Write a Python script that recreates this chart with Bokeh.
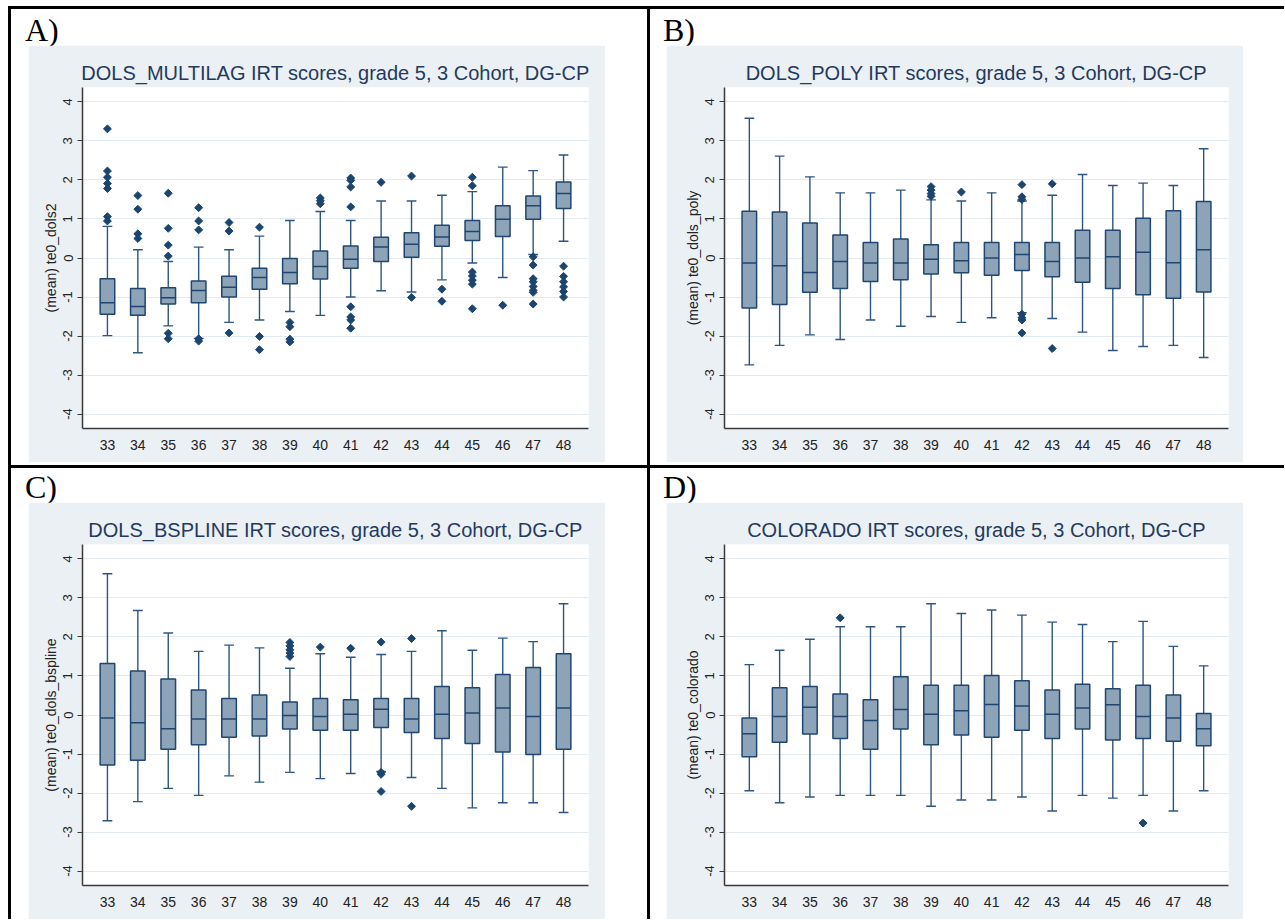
import math
from bokeh.plotting import figure
from bokeh.models import Range1d, FixedTicker, Div, Spacer
from bokeh.layouts import column, row
from bokeh.embed import file_html
from bokeh.resources import INLINE

# ---------------- data ----------------
cats = list(range(33, 49))
x_tick_labels = [str(c) for c in cats]
y_ticks = [-4, -3, -2, -1, 0, 1, 2, 3, 4]
y_tick_labels = ["-4", "-3", "-2", "-1", "0", "1", "2", "3", "4"]

panel_labels = ["A)", "B)", "C)", "D)"]
titles = [
    "DOLS_MULTILAG IRT scores, grade 5, 3 Cohort, DG-CP",
    "DOLS_POLY IRT scores, grade 5, 3 Cohort, DG-CP",
    "DOLS_BSPLINE IRT scores, grade 5, 3 Cohort, DG-CP",
    "COLORADO IRT scores, grade 5, 3 Cohort, DG-CP",
]
ylabels = [
    "(mean) te0_dols2",
    "(mean) te0_dols_poly",
    "(mean) te0_dols_bspline",
    "(mean) te0_colorado",
]

# Panel A: DOLS_MULTILAG
A_hi = [0.81, 0.21, -0.09, 0.28, 0.21, 0.56, 0.96, 1.19, 0.96, 1.46, 1.46, 1.61, 1.70, 2.33, 2.24, 2.64]
A_q3 = [-0.53, -0.78, -0.76, -0.59, -0.47, -0.26, -0.01, 0.18, 0.31, 0.53, 0.65, 0.84, 0.96, 1.34, 1.59, 1.95]
A_med = [-1.15, -1.24, -1.02, -0.83, -0.75, -0.50, -0.37, -0.22, -0.03, 0.28, 0.35, 0.54, 0.68, 0.99, 1.34, 1.65]
A_q1 = [-1.44, -1.47, -1.18, -1.15, -1.00, -0.80, -0.66, -0.54, -0.26, -0.09, 0.02, 0.30, 0.45, 0.55, 0.99, 1.27]
A_lo = [-1.99, -2.43, -1.74, -2.06, -1.65, -1.59, -1.37, -1.47, -1.00, -0.84, -0.87, -0.56, -0.13, -0.50, 0.09, 0.43]
A_out = [
    [3.31, 2.23, 2.07, 1.91, 1.78, 1.06, 0.95],
    [1.60, 1.25, 0.62, 0.50],
    [1.66, 0.76, 0.33, 0.05, -1.93, -2.07],
    [1.29, 0.95, 0.72, -2.07, -2.13],
    [0.91, 0.69, -1.92],
    [0.79, -2.01, -2.35],
    [-1.65, -1.76, -2.08, -2.15],
    [1.54, 1.47, 1.39],
    [2.05, 1.99, 1.82, 1.31, -1.25, -1.51, -1.59, -1.80],
    [1.94],
    [2.10, -1.01],
    [-0.80, -1.11],
    [2.07, 1.85, -0.36, -0.46, -0.57, -0.67, -1.30],
    [-1.21],
    [0.03, -0.18, -0.53, -0.61, -0.73, -0.83, -0.88, -1.18],
    [-0.21, -0.47, -0.61, -0.74, -0.86, -1.00],
]

# Panel B: DOLS_POLY
B_hi = [3.58, 2.61, 2.08, 1.67, 1.67, 1.74, 1.49, 1.46, 1.67, 1.46, 1.61, 2.14, 1.86, 1.92, 1.86, 2.80]
B_q3 = [1.20, 1.18, 0.90, 0.59, 0.40, 0.49, 0.34, 0.40, 0.40, 0.40, 0.40, 0.71, 0.71, 1.02, 1.21, 1.45]
B_med = [-0.13, -0.20, -0.37, -0.09, -0.13, -0.13, -0.03, -0.07, 0.00, 0.09, -0.09, 0.00, 0.03, 0.15, -0.12, 0.21]
B_q1 = [-1.28, -1.19, -0.88, -0.78, -0.60, -0.56, -0.41, -0.38, -0.44, -0.32, -0.48, -0.62, -0.78, -0.94, -1.03, -0.87]
B_lo = [-2.74, -2.24, -1.97, -2.09, -1.59, -1.75, -1.50, -1.65, -1.53, -1.40, -1.55, -1.90, -2.37, -2.27, -2.24, -2.55]
B_out = [
    [], [], [], [], [], [],
    [1.83, 1.74, 1.65, 1.58],
    [1.69],
    [],
    [1.88, 1.57, 1.50, -1.44, -1.53, -1.59, -1.92],
    [1.90, -2.32],
    [], [], [], [], [],
]

# Panel C: DOLS_BSPLINE
C_hi = [3.62, 2.68, 2.10, 1.63, 1.79, 1.72, 1.20, 1.57, 1.48, 1.55, 1.63, 2.16, 1.66, 1.97, 1.88, 2.85]
C_q3 = [1.32, 1.13, 0.92, 0.64, 0.42, 0.51, 0.33, 0.42, 0.39, 0.42, 0.42, 0.73, 0.70, 1.04, 1.22, 1.57]
C_med = [-0.08, -0.20, -0.35, -0.10, -0.10, -0.10, -0.01, -0.04, 0.02, 0.15, -0.10, 0.02, 0.05, 0.18, -0.04, 0.18]
C_q1 = [-1.28, -1.16, -0.88, -0.76, -0.57, -0.54, -0.36, -0.39, -0.39, -0.32, -0.45, -0.60, -0.73, -0.95, -1.01, -0.88]
C_lo = [-2.71, -2.22, -1.88, -2.06, -1.56, -1.72, -1.47, -1.63, -1.50, -1.45, -1.60, -1.88, -2.38, -2.25, -2.25, -2.50]
C_out = [
    [], [], [], [], [], [],
    [1.86, 1.77, 1.67, 1.59, 1.50],
    [1.74],
    [1.71],
    [1.87, -1.47, -1.52, -1.96],
    [1.96, -2.34],
    [], [], [], [], [],
]

# Panel D: COLORADO
D_hi = [1.29, 1.66, 1.94, 2.26, 2.26, 2.26, 2.85, 2.60, 2.69, 2.56, 2.38, 2.32, 1.88, 2.40, 1.76, 1.26]
D_q3 = [-0.08, 0.70, 0.73, 0.54, 0.39, 0.98, 0.76, 0.76, 1.01, 0.88, 0.64, 0.79, 0.67, 0.76, 0.51, 0.04]
D_med = [-0.48, -0.04, 0.20, -0.04, -0.14, 0.14, 0.02, 0.11, 0.27, 0.23, 0.02, 0.18, 0.26, -0.04, -0.08, -0.35]
D_q1 = [-1.07, -0.70, -0.49, -0.60, -0.88, -0.36, -0.76, -0.51, -0.57, -0.39, -0.60, -0.36, -0.64, -0.60, -0.67, -0.79]
D_lo = [-1.94, -2.25, -2.10, -2.06, -2.06, -2.06, -2.34, -2.18, -2.18, -2.10, -2.46, -2.06, -2.13, -2.06, -2.46, -1.94]
D_out = [
    [], [], [], [2.49], [], [], [], [], [], [], [], [], [], [-2.77], [], [],
]

# ---------------- style ----------------
GRAY = "#EBF0F5"
GRID = "#E3EAF0"
BOX_FILL = "#8DA3B7"
BOX_LINE = "#1F4670"
WHISK = "#2C5580"
MARK = "#1A456E"
TITLE_C = "#243A5C"
AXIS_C = "#3A3A3A"
SANS = "Liberation Sans"
SERIF = "Liberation Serif"

BOX_W = 0.48
CAP_W = 0.32


def make_panel(idx, hi, q3, med, q1, lo, outs, height, left, right, bottom):
    p = figure(
        width=577, height=height,
        x_range=Range1d(32.18, 48.82), y_range=Range1d(-4.37, 4.37),
        output_backend="svg", toolbar_location=None,
        min_border_left=left, min_border_right=right,
        min_border_top=42, min_border_bottom=bottom,
        border_fill_color=GRAY, background_fill_color="white",
        outline_line_color=None,
    )
    p.title.text = titles[idx]
    p.title.text_font = SANS
    p.title.text_font_size = "20px"
    p.title.text_font_style = "normal"
    p.title.text_color = TITLE_C
    p.title.align = "center"
    p.title.standoff = 7

    # whiskers
    p.segment(x0=cats, y0=q3, x1=cats, y1=hi, line_color=WHISK, line_width=1.4)
    p.segment(x0=cats, y0=q1, x1=cats, y1=lo, line_color=WHISK, line_width=1.4)
    # caps
    p.segment(x0=[c - CAP_W / 2 for c in cats], y0=hi, x1=[c + CAP_W / 2 for c in cats], y1=hi,
              line_color=WHISK, line_width=1.4)
    p.segment(x0=[c - CAP_W / 2 for c in cats], y0=lo, x1=[c + CAP_W / 2 for c in cats], y1=lo,
              line_color=WHISK, line_width=1.4)
    # boxes
    p.vbar(x=cats, width=BOX_W, top=q3, bottom=q1, fill_color=BOX_FILL,
           line_color=BOX_LINE, line_width=1.5)
    # medians
    p.segment(x0=[c - BOX_W / 2 for c in cats], y0=med, x1=[c + BOX_W / 2 for c in cats], y1=med,
              line_color=BOX_LINE, line_width=1.5)
    # outliers
    ox, oy = [], []
    for c, vals in zip(cats, outs):
        for v in vals:
            ox.append(c)
            oy.append(v)
    if ox:
        p.scatter(x=ox, y=oy, marker="square", angle=math.pi / 4, size=5.6,
                  fill_color=MARK, line_color=MARK)

    # x axis
    xa = p.xaxis[0]
    xa.ticker = FixedTicker(ticks=cats)
    xa.major_label_overrides = {c: lab for c, lab in zip(cats, x_tick_labels)}
    xa.major_tick_line_color = None
    xa.minor_tick_line_color = None
    xa.axis_line_color = AXIS_C
    xa.axis_line_width = 1.5
    xa.major_label_standoff = 5
    xa.major_label_text_font = SANS
    xa.major_label_text_font_size = "14px"
    xa.major_label_text_color = "#222222"

    # y axis
    ya = p.yaxis[0]
    ya.ticker = FixedTicker(ticks=y_ticks)
    ya.major_label_overrides = {t: lab for t, lab in zip(y_ticks, y_tick_labels)}
    ya.major_label_orientation = "vertical"
    ya.major_tick_out = 5
    ya.major_tick_in = 0
    ya.major_tick_line_color = AXIS_C
    ya.minor_tick_line_color = None
    ya.axis_line_color = AXIS_C
    ya.axis_line_width = 1.5
    ya.major_label_standoff = 5
    ya.major_label_text_font = SANS
    ya.major_label_text_font_size = "13px"
    ya.major_label_text_color = "#222222"
    ya.axis_label = ylabels[idx]
    ya.axis_label_text_font = SANS
    ya.axis_label_text_font_size = "14px"
    ya.axis_label_text_font_style = "normal"
    ya.axis_label_text_color = "#222222"
    ya.axis_label_standoff = 2

    p.xgrid.grid_line_color = None
    p.ygrid.grid_line_color = GRID
    p.ygrid.grid_line_width = 1
    return p


def label_div(txt, w, h, top, lpad):
    html = (f'<div style="padding:{top}px 0 0 {lpad}px;font-family:\'{SERIF}\',serif;'
            f'font-size:32px;line-height:32px;color:#000;white-space:nowrap;">{txt}</div>')
    return Div(text=html, width=w, height=h, margin=0)


def black(w, h):
    return Spacer(width=w, height=h, margin=0, styles={"background-color": "black"})


def blank(w, h):
    return Spacer(width=w, height=h, margin=0)


pA = make_panel(0, A_hi, A_q3, A_med, A_q1, A_lo, A_out, 417, 54, 17, 34)
pB = make_panel(1, B_hi, B_q3, B_med, B_q1, B_lo, B_out, 417, 58, 15, 34)
pC = make_panel(2, C_hi, C_q3, C_med, C_q1, C_lo, C_out, 417, 54, 17, 34)
pD = make_panel(3, D_hi, D_q3, D_med, D_q1, D_lo, D_out, 417, 58, 15, 34)

CELL_L = 636
CELL_R = 634
TOTAL_W = 3 + CELL_L + 3 + CELL_R

cellA = column(label_div(panel_labels[0], CELL_L, 36, 5, 14), row(blank(17, 417), pA), blank(CELL_L, 3),
               spacing=0, margin=0)
cellB = column(label_div(panel_labels[1], CELL_R, 36, 5, 13), row(blank(16, 417), pB), blank(CELL_R, 3),
               spacing=0, margin=0)
cellC = column(label_div(panel_labels[2], CELL_L, 34, 3, 14), row(blank(17, 417), pC),
               spacing=0, margin=0)
cellD = column(label_div(panel_labels[3], CELL_R, 34, 3, 13), row(blank(16, 417), pD),
               spacing=0, margin=0)

layout = column(
    black(TOTAL_W, 3),
    row(black(3, 456), cellA, black(3, 456), cellB, spacing=0, margin=0),
    black(TOTAL_W, 3),
    row(black(3, 451), cellC, black(3, 451), cellD, spacing=0, margin=0),
    spacing=0, margin=(6, 0, 0, 8),
)

open("out.html", "w").write(file_html(layout, INLINE))
